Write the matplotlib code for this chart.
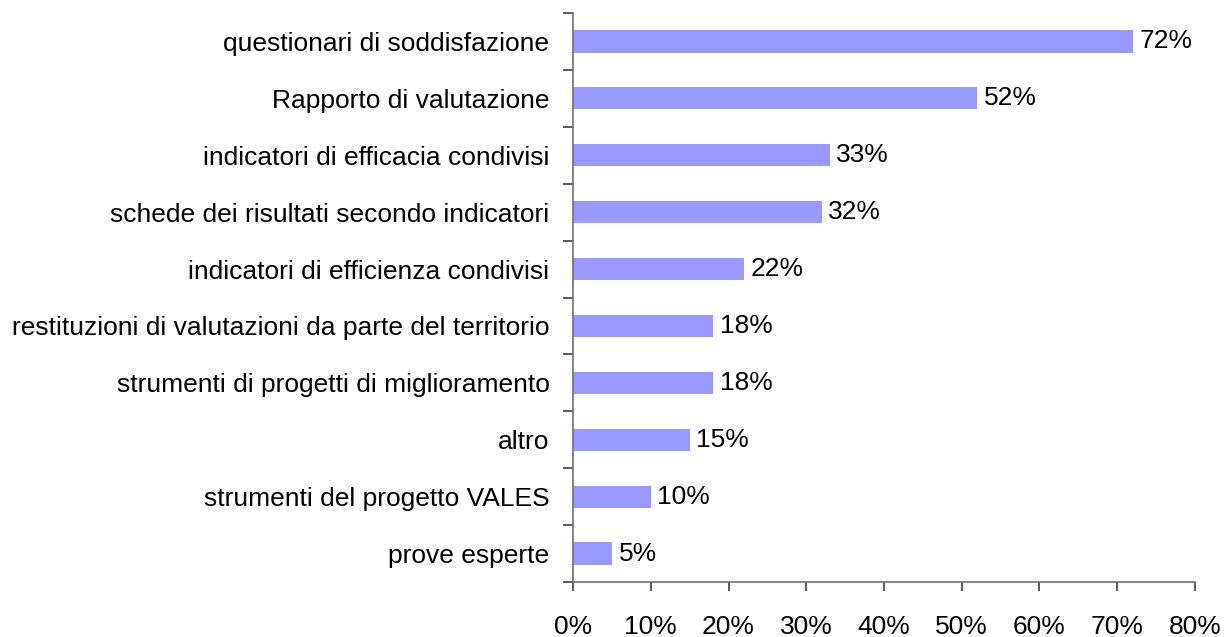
import matplotlib.pyplot as plt
import numpy as np
from matplotlib.ticker import FixedLocator, FuncFormatter

categories = [
    'questionari di soddisfazione',
    'Rapporto di valutazione',
    'indicatori di efficacia condivisi',
    'schede dei risultati secondo indicatori',
    'indicatori di efficienza condivisi',
    'restituzioni di valutazioni da parte del territorio',
    'strumenti di progetti di miglioramento',
    'altro',
    'strumenti del progetto VALES',
    'prove esperte',
]
values = [72, 52, 33, 32, 22, 18, 18, 15, 10, 5]

plt.rcParams['font.family'] = ['Liberation Sans', 'DejaVu Sans']
fs = 19

fig = plt.figure(figsize=(12.3, 6.37), dpi=100)
ax = fig.add_axes([0.4659, 0.0863, 0.5056, 0.8933])

y = np.arange(len(categories))[::-1]
ax.barh(y, values, height=0.39, color='#9999FF')
for yi, v in zip(y, values):
    ax.text(v + 0.85, yi, f'{v}%', va='center', ha='left', fontsize=fs)

ax.set_xlim(0, 80)
ax.set_ylim(-0.5, len(categories) - 0.5)
ax.set_xticks(np.arange(0, 81, 10))
ax.xaxis.set_major_formatter(FuncFormatter(lambda x, p: f'{int(x)}%'))
ax.set_yticks(y)
ax.set_yticklabels(categories)
ax.yaxis.set_minor_locator(FixedLocator(np.arange(-0.5, len(categories), 1.0)))

for s in ['top', 'right']:
    ax.spines[s].set_visible(False)
for s in ['left', 'bottom']:
    ax.spines[s].set_color('#707070')
    ax.spines[s].set_linewidth(1.2)

ax.tick_params(axis='y', which='major', length=0, pad=17, labelsize=fs)
ax.tick_params(axis='y', which='minor', length=7, width=1.2, color='#404040')
ax.tick_params(axis='x', which='major', length=6.5, width=1.2, color='#404040',
               pad=17, labelsize=fs)

fig.savefig('out.png', dpi=100)
